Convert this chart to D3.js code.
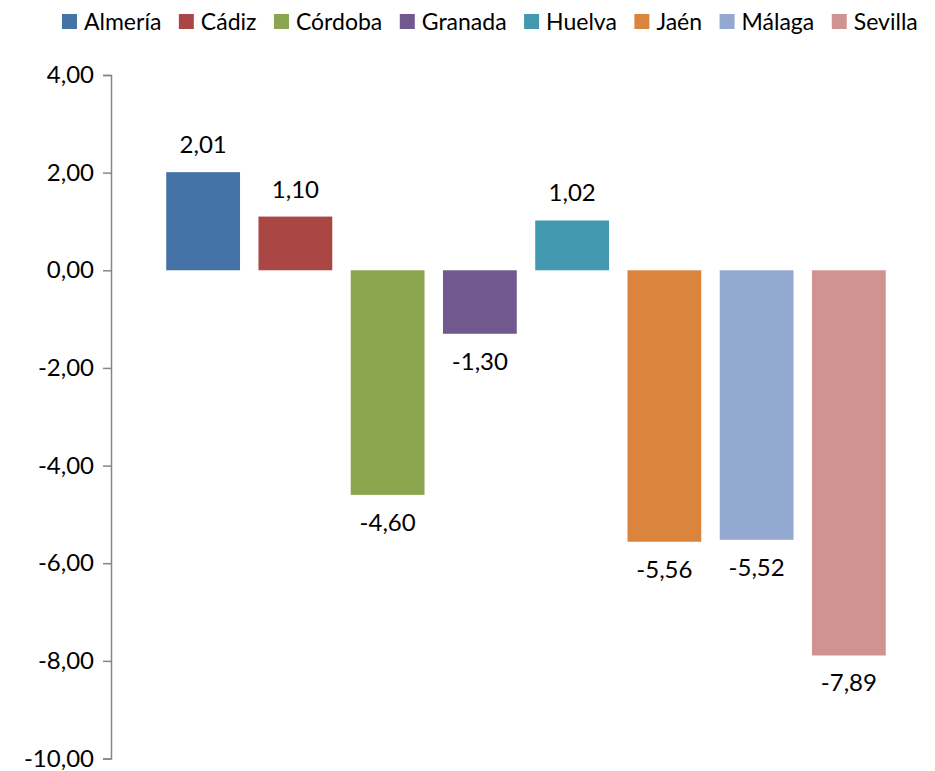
<!DOCTYPE html>
<html>
<head>
<meta charset="utf-8">
<script src="https://cdn.jsdelivr.net/npm/d3@7"></script>
<style>
  body { margin: 0; background: #fff; }
  text { font-family: Lato, "Open Sans", sans-serif; fill: #000; }
</style>
</head>
<body>
<svg id="chart"></svg>
<script>
const provincias = ["Almería", "Cádiz", "Córdoba", "Granada", "Huelva", "Jaén", "Málaga", "Sevilla"];
const valores = [2.01, 1.10, -4.60, -1.30, 1.02, -5.56, -5.52, -7.89];
const colores = ["#4572A7", "#AA4643", "#89A54E", "#71588F", "#4198AF", "#DB843D", "#93A9CF", "#D19392"];
const yTicks = [4, 2, 0, -2, -4, -6, -8, -10];

const width = 935, height = 771;
const fontSize = "24px";
const fmt = v => (v < 0 ? "-" : "") + Math.abs(v).toFixed(2).replace(".", ",");

const svg = d3.select("#chart")
    .attr("width", width)
    .attr("height", height);

const x = d3.scaleBand()
    .domain(provincias)
    .range([157, 895])
    .paddingInner(0.2)
    .paddingOuter(0.1);

const y = d3.scaleLinear()
    .domain([-10, 4])
    .range([758.5, 75]);

// eje y
const yAxis = d3.axisLeft(y)
    .tickValues(yTicks)
    .tickFormat(fmt)
    .tickSize(8)
    .tickPadding(9);

const yAxisG = svg.append("g")
    .attr("transform", "translate(111,0)")
    .call(yAxis);
yAxisG.select(".domain").attr("stroke", "#868686").attr("stroke-width", 1.5);
yAxisG.selectAll(".tick line").attr("stroke", "#868686").attr("stroke-width", 1.5);
yAxisG.selectAll(".tick text")
    .style("font-size", fontSize)
    .style("font-family", "Lato, 'Open Sans', sans-serif")
    .attr("fill", "#000");

// barras
svg.selectAll(".bar")
    .data(provincias)
    .enter()
    .append("rect")
    .attr("class", "bar")
    .attr("x", d => x(d))
    .attr("width", x.bandwidth())
    .attr("y", (d, i) => y(Math.max(0, valores[i])))
    .attr("height", (d, i) => Math.abs(y(valores[i]) - y(0)))
    .attr("fill", (d, i) => colores[i]);

// etiquetas
svg.selectAll(".label")
    .data(provincias)
    .enter()
    .append("text")
    .attr("class", "label")
    .attr("x", d => x(d) + x.bandwidth() / 2)
    .attr("y", (d, i) => valores[i] >= 0 ? y(valores[i]) - 19 : y(valores[i]) + 36)
    .attr("text-anchor", "middle")
    .style("font-size", fontSize)
    .text((d, i) => fmt(valores[i]));

// leyenda
const legend = svg.append("g").attr("class", "legend");
let lx = 62;
provincias.forEach((p, i) => {
    const item = legend.append("g").attr("transform", `translate(${lx},0)`);
    item.append("rect")
        .attr("x", 0).attr("y", 14)
        .attr("width", 15).attr("height", 15)
        .attr("fill", colores[i]);
    const t = item.append("text")
        .attr("x", 22).attr("y", 30)
        .style("font-size", "23px")
        .text(p);
    lx += 22 + t.node().getComputedTextLength() + 17.5;
});
</script>
</body>
</html>
